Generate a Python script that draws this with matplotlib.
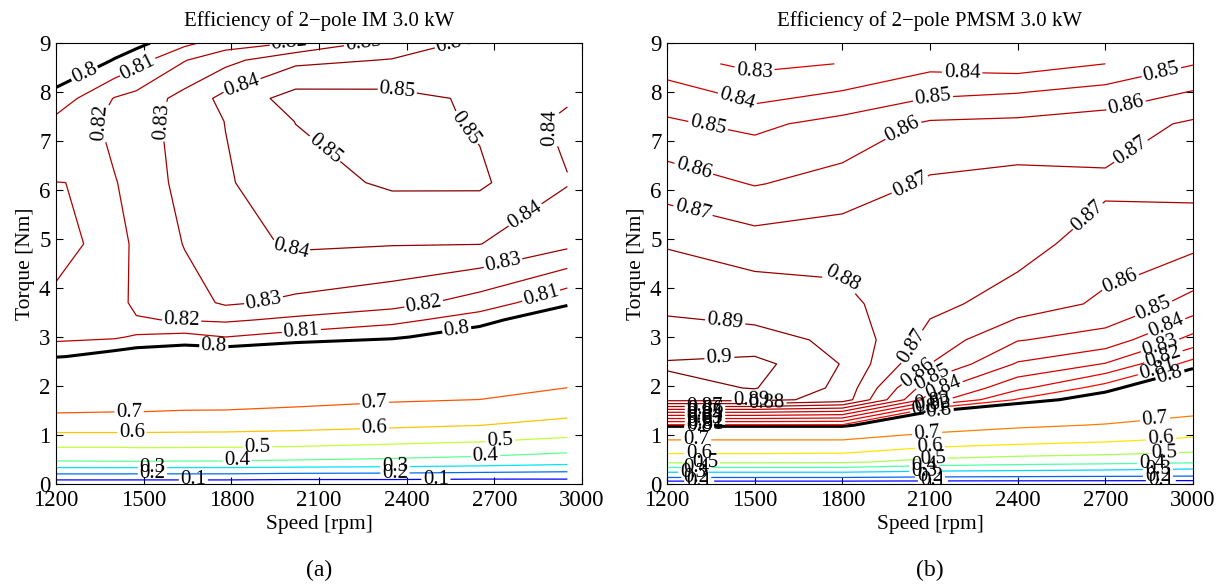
import numpy as np
import matplotlib.pyplot as plt

plt.rcParams['font.family'] = ['Liberation Serif', 'DejaVu Serif']

# contour levels (0.8 is drawn black and thick, like the original)
levels_low = [0.1, 0.2, 0.3, 0.4, 0.5, 0.6, 0.7]
levels_high = [0.81, 0.82, 0.83, 0.84, 0.85, 0.86, 0.87, 0.88, 0.89, 0.90]
level_black = 0.8

# ---- 2-pole IM 3.0 kW ----
speed_im = [1200, 1400, 1475, 1640, 1780, 2020, 2350, 2650, 2950]
torque_im = [0, 0.1, 0.25, 0.45, 0.75, 1.05, 1.45, 2.0, 2.6, 3.0, 3.35, 3.7, 4.9, 6.15, 7.4, 7.87, 8.65, 9.0]
# one list per speed, values along torque
eff_im = [
    [0, .12, .233, .392, .500, .600, .700, .750, .801, .8127, .816, .8195, .8209, .8201, .8125, .804, .790, .785],
    [0, .12, .233, .395, .500, .600, .698, .750, .795, .8115, .815, .8175, .8190, .8195, .8225, .8205, .8005, .795],
    [0, .12, .232, .395, .503, .600, .698, .750, .793, .8085, .8195, .8215, .8205, .8230, .8250, .8235, .806, .797],
    [0, .12, .232, .393, .502, .598, .695, .745, .790, .807, .8205, .8255, .8305, .8335, .8345, .8335, .8195, .8075],
    [0, .12, .232, .393, .500, .597, .695, .740, .790, .810, .8215, .8315, .8360, .8390, .8402, .8430, .827, .815],
    [0, .11, .225, .385, .495, .590, .690, .735, .785, .806, .818, .828, .8415, .8460, .8502, .8540, .8375, .8205],
    [0, .11, .220, .375, .480, .575, .680, .730, .780, .802, .813, .824, .8405, .8515, .8535, .8530, .8405, .834],
    [0, .10, .210, .360, .465, .560, .670, .730, .770, .792, .805, .8155, .8402, .8515, .8490, .8485, .846, .8425],
    [0, .10, .200, .335, .440, .530, .625, .705, .750, .770, .787, .8025, .8325, .8405, .8375, .8415, .843, .842],
]

# ---- 2-pole PMSM 3.0 kW ----
speed_pm = [1200, 1500, 1800, 2100, 2400, 2700, 3000]
torque_pm = [0, 0.1, 0.2, 0.3, 0.45, 0.65, 0.9, 1.2, 1.47, 1.72, 1.96, 2.45, 2.94, 3.675, 4.9, 6.125, 7.35, 8.0, 8.575]
eff_pm = [
    [0, .17, .26, .36, .52, .614, .70, .8085, .851, .8935, .8970, .9012, .8928, .8886, .8792, .8653, .8513, .8453, .8331],
    [0, .17, .26, .36, .52, .614, .70, .8085, .851, .8935, .9005, .9035, .8925, .8865, .8745, .8595, .8478, .8354, .8280],
    [0, .17, .26, .36, .515, .610, .70, .8085, .848, .8860, .8875, .8895, .8885, .8825, .8765, .8635, .8535, .8405, .8302],
    [0, .16, .25, .33, .47, .560, .66, .745, .799, .8350, .8435, .8600, .8665, .8725, .8750, .8715, .8615, .8475, .8370],
    [0, .155, .245, .32, .445, .540, .635, .715, .780, .8090, .8225, .8390, .8505, .8660, .8735, .8735, .8625, .8495, .8350],
    [0, .15, .24, .31, .43, .525, .615, .695, .750, .7900, .8055, .8295, .8460, .8580, .8655, .8718, .8650, .8535, .8400],
    [0, .145, .235, .295, .415, .500, .585, .665, .715, .7500, .7750, .8060, .8265, .8465, .8625, .8735, .8715, .8605, .8495],
]

# where the contour labels sit (speed, torque), per level
labels_im = {
    0.1: [(1670, 0.08), (2500, 0.09)],
    0.2: [(1530, 0.2), (2360, 0.22)],
    0.3: [(1530, 0.33), (2360, 0.35)],
    0.4: [(1820, 0.46), (2670, 0.57)],
    0.5: [(1890, 0.75), (2720, 0.9)],
    0.6: [(1460, 1.05), (2290, 1.15)],
    0.7: [(1450, 1.45), (2290, 1.62)],
    0.8: [(1300, 8.35), (1740, 2.8), (2570, 3.2)],
    0.81: [(1480, 8.5), (2040, 3.1), (2860, 3.85)],
    0.82: [(1340, 7.35), (1630, 3.35), (2460, 3.6), (2080, 8.97)],
    0.83: [(1545, 7.4), (1910, 3.75), (2730, 4.5), (2260, 8.95)],
    0.84: [(1830, 8.25), (2000, 4.75), (2860, 7.2), (2810, 5.45), (2640, 8.98)],
    0.85: [(2370, 8.12), (2115, 6.8), (2580, 7.15)],
}
labels_pm = {
    0.1: [(1310, 0.04), (2110, 0.05), (2890, 0.07)],
    0.2: [(1300, 0.14), (2100, 0.15), (2880, 0.17)],
    0.3: [(1290, 0.25), (2080, 0.27), (2880, 0.31)],
    0.4: [(1300, 0.34), (2080, 0.37), (2860, 0.43)],
    0.5: [(1330, 0.44), (2110, 0.5), (2900, 0.64)],
    0.6: [(1310, 0.62), (2100, 0.77), (2890, 0.95)],
    0.7: [(1300, 0.9), (2090, 1.04), (2870, 1.32)],
    0.8: [(1310, 1.18), (2130, 1.5), (2920, 2.25)],
    0.81: [(1330, 1.23), (2100, 1.55), (2870, 2.5)],
    0.82: [(1330, 1.28), (2110, 1.6), (2890, 2.75)],
    0.83: [(1330, 1.34), (2110, 1.67), (2880, 2.95), (1500, 8.45)],
    0.84: [(1330, 1.39), (1440, 7.85), (2150, 1.9), (2900, 3.35), (2210, 8.4)],
    0.85: [(1330, 1.44), (1340, 7.3), (2110, 2.15), (2860, 3.65), (2110, 7.88), (2890, 8.45)],
    0.86: [(1330, 1.5), (1290, 6.4), (2040, 2.4), (2760, 4.0), (1990, 7.4), (2770, 7.75)],
    0.87: [(1330, 1.55), (1290, 5.6), (2010, 2.9), (2650, 5.4), (2020, 6.25), (2750, 7.1)],
    0.88: [(1540, 1.6), (1800, 4.2)],
    0.89: [(1490, 1.66), (1400, 3.35)],
    0.9: [(1380, 2.5)],
}


def draw_map(ax, speed, torque, eff, title, label_pos):
    Z = np.array(eff).T
    # colours spread over the data range, as matlab's jet does
    norm = plt.Normalize(Z.min(), Z.max())
    cmap = plt.get_cmap('jet')
    for lev in levels_low + [level_black] + levels_high:
        if not Z.min() < lev < Z.max():
            continue
        if lev == level_black:
            cs = ax.contour(speed, torque, Z, levels=[lev], colors='k', linewidths=2.2)
        else:
            cs = ax.contour(speed, torque, Z, levels=[lev], colors=[cmap(norm(lev))], linewidths=0.9)
        pos = label_pos.get(lev, [])
        if pos:
            txt = ax.clabel(cs, manual=pos, fmt='%g', colors='k', fontsize=15,
                            inline=True, inline_spacing=2)
            for t in txt:
                t.set_clip_on(True)
    ax.set_xlim(1200, 3000)
    ax.set_ylim(0, 9)
    ax.set_xticks(range(1200, 3001, 300))
    ax.set_yticks(range(0, 10))
    ax.tick_params(direction='in', top=True, right=True, labelsize=16.5, length=5, pad=4)
    ax.set_xlabel('Speed [rpm]', fontsize=15.5, labelpad=3)
    ax.set_ylabel('Torque [Nm]', fontsize=15.5, labelpad=3)
    ax.set_title(title, fontsize=15, pad=12)


fig = plt.figure(figsize=(12.23, 5.86), dpi=100)
ax1 = fig.add_axes([56 / 1223, 102 / 586, 526 / 1223, 441 / 586])
ax2 = fig.add_axes([667 / 1223, 102 / 586, 526 / 1223, 441 / 586])

draw_map(ax1, speed_im, torque_im, eff_im, 'Efficiency of 2\u2212pole IM 3.0 kW', labels_im)
draw_map(ax2, speed_pm, torque_pm, eff_pm, 'Efficiency of 2\u2212pole PMSM 3.0 kW', labels_pm)

fig.text(319 / 1223, 16 / 586, '(a)', ha='center', va='center', fontsize=17)
fig.text(930 / 1223, 16 / 586, '(b)', ha='center', va='center', fontsize=17)

fig.savefig('out.png', dpi=100)
